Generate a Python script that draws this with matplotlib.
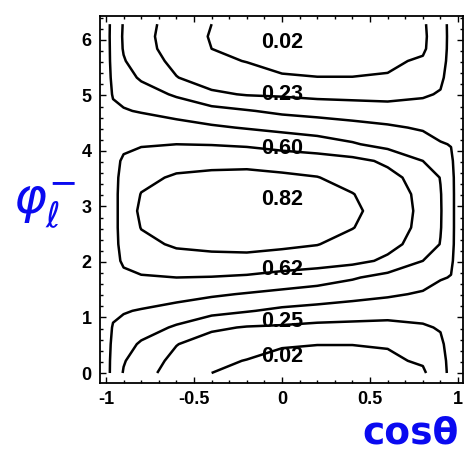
import numpy as np
import matplotlib
matplotlib.use("Agg")
import matplotlib.pyplot as plt
from matplotlib.ticker import MultipleLocator

plt.rcParams['font.family'] = ['Liberation Sans', 'DejaVu Sans']
plt.rcParams['axes.unicode_minus'] = False

# ---- data ----
cos_theta = np.array([-1, -0.96, -0.9, -0.8, -0.6, -0.4, -0.2, 0, 0.2, 0.4, 0.6, 0.8, 0.9, 0.96, 1])
phi_center = 2.92          # phi of the maximum ridge
s_offsets = np.array([0, 0.3, 0.6, 0.9, 1.2, 1.5, 1.8, 2.1, 2.4, 2.7, 2.92, np.pi])
# value profile along |phi - phi_center| for each cos(theta) column
z_profile = np.array([
    [0.56, 0.56, 0.56, 0.56, 0.56, 0.56, 0.56, 0.56, 0.56, 0.56, 0.56, 0.56],
    [0.61, 0.61, 0.61, 0.605, 0.59, 0.56, 0.525, 0.49, 0.47, 0.455, 0.45, 0.445],
    [0.70, 0.70, 0.69, 0.67, 0.62, 0.56, 0.51, 0.46, 0.41, 0.36, 0.34, 0.335],
    [0.83, 0.805, 0.76, 0.70, 0.64, 0.58, 0.49, 0.42, 0.33, 0.28, 0.25, 0.245],
    [0.88, 0.865, 0.82, 0.74, 0.65, 0.55, 0.45, 0.33, 0.205, 0.16, 0.14, 0.13],
    [0.90, 0.885, 0.84, 0.75, 0.645, 0.52, 0.40, 0.225, 0.13, 0.08, 0.05, 0.04],
    [0.91, 0.895, 0.845, 0.755, 0.63, 0.49, 0.36, 0.19, 0.11, 0.045, 0.025, 0.015],
    [0.90, 0.88, 0.83, 0.73, 0.60, 0.46, 0.32, 0.18, 0.058, 0.025, 0.012, 0.005],
    [0.87, 0.85, 0.805, 0.715, 0.57, 0.43, 0.30, 0.16, 0.052, 0.015, 0.005, 0.0],
    [0.83, 0.805, 0.745, 0.69, 0.515, 0.40, 0.28, 0.155, 0.052, 0.015, 0.005, 0.0],
    [0.73, 0.72, 0.69, 0.625, 0.45, 0.37, 0.265, 0.15, 0.058, 0.03, 0.02, 0.015],
    [0.62, 0.615, 0.595, 0.50, 0.41, 0.335, 0.25, 0.185, 0.115, 0.065, 0.03, 0.025],
    [0.51, 0.507, 0.495, 0.44, 0.36, 0.30, 0.25, 0.21, 0.175, 0.15, 0.14, 0.135],
    [0.40, 0.40, 0.395, 0.375, 0.345, 0.315, 0.29, 0.27, 0.255, 0.245, 0.24, 0.24],
    [0.28, 0.28, 0.28, 0.28, 0.28, 0.28, 0.28, 0.28, 0.28, 0.28, 0.28, 0.28],
])
levels = [0.05, 0.2, 0.35, 0.5, 0.65, 0.8]

label_text = ["0.02", "0.23", "0.60", "0.82", "0.62", "0.25", "0.02"]
label_phi = [5.95, 5.01, 4.05, 3.12, 1.86, 0.92, 0.29]
label_cos = [0, 0, 0, 0, 0, 0, 0]

# ---- build the phi grid (mirror of the profile about phi_center) ----
idx_rows = list(range(10, -1, -1))
phi_rows = [phi_center - s_offsets[k] for k in idx_rows]
for k in range(1, 12):
    phi_rows.append(phi_center + s_offsets[k])
    idx_rows.append(k)
phi_rows.append(2 * np.pi)
idx_rows.append(10)
phi_rows = np.array(phi_rows)
Z = z_profile[:, idx_rows].T

fig = plt.figure(figsize=(4.75, 4.55), dpi=100)
ax = fig.add_axes([100 / 475, 72 / 455, 363 / 475, 367 / 455])

ax.contour(cos_theta, phi_rows, Z, levels=levels, colors='black', linewidths=1.8)

for t, xx, yy in zip(label_text, label_cos, label_phi):
    ax.text(xx, yy, t, ha='center', va='center', fontsize=15.5, fontweight='bold', color='black')

ax.set_xlim(-1.034, 1.028)
ax.set_ylim(-0.18, 6.43)
ax.xaxis.set_major_locator(MultipleLocator(0.5))
ax.xaxis.set_minor_locator(MultipleLocator(0.1))
ax.yaxis.set_major_locator(MultipleLocator(1))
ax.yaxis.set_minor_locator(MultipleLocator(0.2))
ax.set_xticks([-1, -0.5, 0, 0.5, 1])
ax.set_xticklabels(["-1", "-0.5", "0", "0.5", "1"])
ax.tick_params(which='both', direction='in', top=True, right=True, width=1)
ax.tick_params(which='major', length=4, pad=6, labelsize=13)
ax.tick_params(which='minor', length=2)
for lab in ax.get_xticklabels() + ax.get_yticklabels():
    lab.set_fontweight('bold')
for sp in ax.spines.values():
    sp.set_linewidth(1.3)

# handwritten annotations
fig.text(44 / 475, 1 - 205 / 455, r'$\varphi^{-}_{\ell}$', color='#0a0af0', fontsize=36,
         ha='center', va='center', family='DejaVu Sans')
fig.text(362 / 475, 3 / 455, 'cosθ', color='#0a0af0', fontsize=27, fontweight='bold',
         ha='left', va='bottom', family='DejaVu Sans')

fig.savefig('out.png', dpi=100)
